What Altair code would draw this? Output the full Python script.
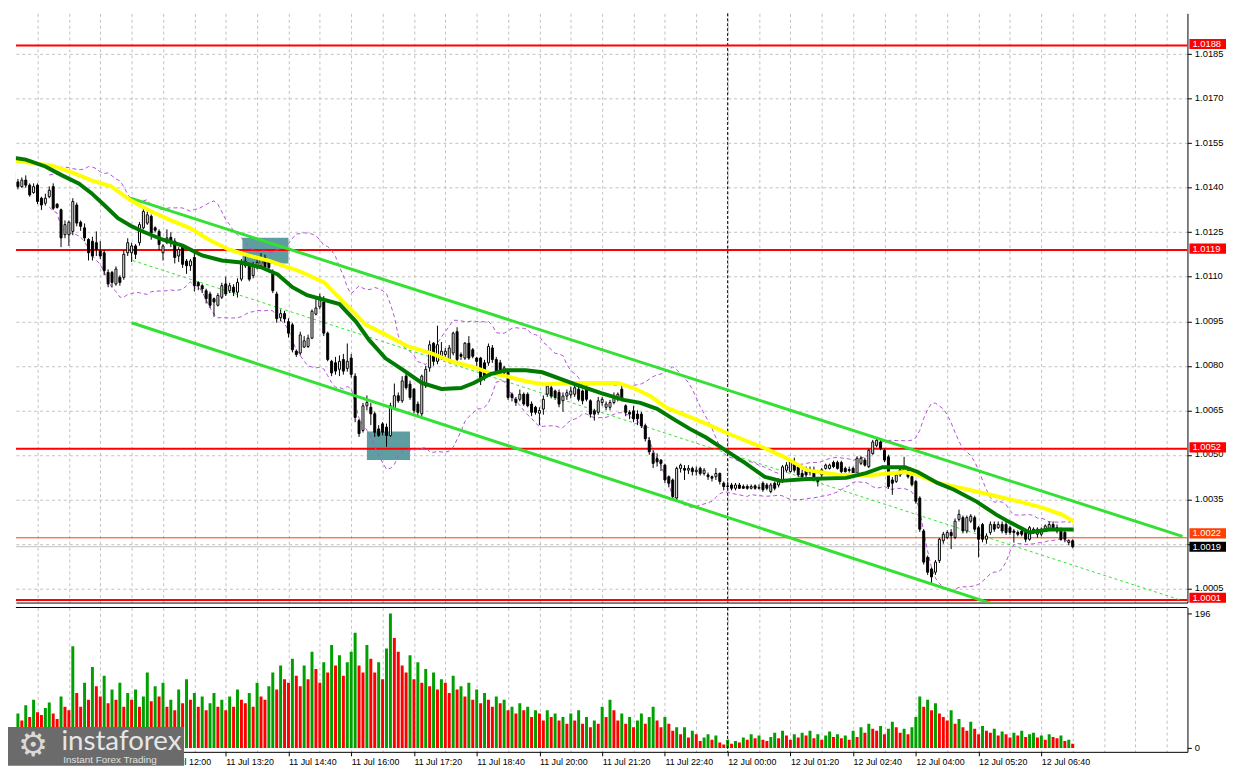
import altair as alt
import pandas as pd
import numpy as np

# ---------------- data (prices in pips above 1.0000) ----------------
O = [145.4,142.0,140.4,142.6,140.9,138.4,140.9,136.5,134.8,137.0,140.4,134.5,132.6,124.2,124.2,125.3,134.2,128.4,126.5,122.6,
     122.0,121.5,118.7,118.1,111.5,111.5,107.6,109.8,109.8,118.1,118.1,120.4,121.5,126.5,128.1,130.4,126.5,125.3,118.1,121.5,
     123.3,122.0,117.0,120.4,115.3,113.7,116.5,108.1,107.0,105.3,104.2,102.6,100.4,103.1,107.6,105.3,106.5,104.8,109.2,113.7,
     113.7,110.4,113.1,113.7,116.5,115.3,111.5,104.2,
     96.2,97.6,94.9,93.8,84.9,84.3,86.3,86.5,89.3,97.4,99.9,101.5,91.0,81.5,81.0,78.8,82.1,79.1,82.6,76.5,
     61.5,58.2,66.5,66.0,63.8,58.7,60.4,59.3,56.5,65.4,69.9,68.2,76.5,73.8,72.1,67.1,63.8,73.2,79.3,87.6,
     81.5,83.2,83.8,82.1,84.3,91.5,83.8,82.6,87.6,85.4,82.6,82.6,81.0,81.0,86.0,82.1,81.0,77.6,78.2,70.4,
     68.7,68.7,70.4,70.4,67.1,66.0,64.0,
     65.4,70.4,72.6,71.5,71.0,68.2,69.8,70.2,70.4,72.1,71.5,72.6,68.2,64.8,64.3,67.6,66.0,66.0,67.6,68.7,
     72.1,66.5,64.3,64.8,63.7,63.7,59.8,54.8,50.4,48.7,48.2,46.5,42.6,41.5,35.4,45.4,45.4,44.8,45.4,44.3,
     45.4,43.7,43.2,42.6,42.6,43.7,40.4,39.3,39.8,38.7,39.8,39.3,39.3,38.7,39.5,38.7,40.4,39.8,37.6,40.4,
     39.8,41.0,44.8,44.3,47.6,45.9,43.7,
     45.4,
     45.1,44.9,41.5,43.2,45.4,45.4,47.4,47.4,47.4,45.4,45.0,45.4,43.8,47.1,48.2,46.0,50.4,53.2,54.3,51.5,
     49.3,41.5,41.0,43.2,44.3,44.9,42.6,41.0,35.4,24.3,15.4,11.5,10.4,14.3,21.0,22.1,23.8,22.1,28.2,28.8,
     24.3,27.6,28.8,25.4,26.5,21.5,23.8,26.5,25.4,26.5,26.5,25.4,24.3,23.8,24.3,23.8,21.5,23.8,23.2,23.2,
     24.9,24.9,26.5,25.4,24.9,23.8,20.4,21.0]
C = [142.0,140.4,142.6,140.9,137.6,140.4,135.4,134.2,136.5,139.2,133.1,133.4,123.1,127.6,128.4,135.4,128.1,127.0,123.1,118.1,
     117.0,119.2,117.0,112.0,107.6,108.1,112.6,108.1,117.6,121.5,120.4,117.6,127.6,132.0,130.9,124.8,125.7,120.9,120.4,123.1,
     121.5,116.5,119.2,114.2,113.7,115.3,107.0,107.0,105.9,102.6,100.4,101.5,103.7,107.0,104.2,107.0,104.8,108.1,114.2,115.3,
     109.2,114.2,114.8,116.5,113.1,113.1,105.3,95.9,
     97.6,95.8,91.0,85.4,83.8,90.4,88.4,89.3,98.4,99.5,103.2,91.0,82.1,77.6,78.2,81.5,78.2,81.5,77.1,62.6,
     57.1,66.5,67.6,63.8,57.6,56.5,57.6,56.5,66.5,69.9,68.2,74.9,72.6,69.3,64.9,64.3,76.5,78.8,87.1,81.5,
     87.1,84.9,84.9,86.0,91.0,82.1,83.2,87.6,82.6,83.2,81.5,74.9,76.5,86.5,82.1,78.2,77.6,79.3,69.3,69.3,
     67.6,70.4,67.1,66.5,64.3,64.3,64.9,
     68.7,73.2,69.8,69.3,67.1,69.8,70.9,71.5,72.6,68.7,68.2,68.7,63.7,63.7,68.2,68.7,67.1,67.6,69.3,70.4,
     68.7,64.3,63.7,62.1,62.1,59.8,55.4,51.0,47.1,47.6,47.1,41.5,40.4,35.9,45.4,46.5,44.8,45.4,44.3,44.8,
     43.7,44.8,42.6,42.1,43.7,41.0,39.3,39.5,38.7,39.8,38.7,38.7,38.7,39.3,38.7,39.0,38.2,38.7,39.8,38.7,
     40.9,45.9,46.5,47.6,44.8,43.2,42.6,
     43.2,
     44.0,41.5,41.0,44.9,46.5,46.5,46.0,45.4,44.3,44.3,44.7,43.8,48.8,48.8,46.5,51.5,54.3,54.9,52.1,48.2,
     39.3,40.4,43.2,44.9,45.4,42.6,39.9,34.3,24.9,13.8,10.4,8.8,13.8,21.5,23.2,23.8,22.7,27.6,29.9,24.3,
     28.8,29.3,24.9,21.5,21.5,22.6,26.5,24.9,26.5,24.3,23.8,23.8,23.8,23.2,23.2,21.5,25.4,24.9,24.9,24.9,
     26.0,26.5,24.9,24.3,21.5,21.5,21.0,19.0]
H = [146,143,143.5,144.2,141.5,141.5,141.5,137,138,140.5,141.5,134.8,133,129,129,136.5,135,129,128,123,
     123.5,125.3,122,119,112.5,112,113.5,110.5,119,123,121.5,121,128.5,133,132,131,127,126,121,126,
     125,123,120,121,116,116,118,108.5,107.5,106,105,103,104.5,108,110,108,107.5,109.5,116,117,
     114.5,115,116,118,117.5,116,112.5,105,
     99,98.5,96,94.5,85.5,91.5,90,90.5,99,103,104.3,103.5,91.5,82,83,83.5,84,87.5,84,77.5,
     62,67.5,70,67.5,64.5,60,61,60.5,67.5,74,71,76.5,78,75,72.5,68,77,80,88.5,88,
     93.5,88,86,87,91.5,93,84.5,88,90,86,83,83,82,87.5,87,83,82,80,79,71,
     69.5,72,71,71,68,66.5,66,
     70,74,73.5,72,72,71,72,73,73.5,73,72,73,68.7,65.5,69.5,69.5,68,68.5,71,71,
     73.5,67,65,66.5,65,64.5,60.5,56,51.5,50.5,48.5,47,43,42,46,47,46.5,46.5,46,46,
     46,45.5,44,43,45.5,44,41,41,40.5,40.5,40.5,40,40,40,40,40,41,40.5,40.5,41,
     42,46.5,47.5,48.5,49,46.5,45,
     46,
     46,46,42,45.5,47,47,48,48,48,46,46,46,49.5,49.5,49,52,55,55.7,55,52,
     50,42.5,44,45.5,49.3,45.5,43,41.5,36,25,16,12,14.5,22,24,24.5,24.9,28.5,31.5,29.5,
     29.5,30,29.5,26,27,23.5,27.5,27.5,27.5,27.5,27.5,26,25,24.5,25,24.5,26,25.5,25.5,25.5,
     26.5,27.5,27.5,26.5,25.5,24.5,21.5,21.5]
L = [141,139.5,140,140,137,138,134.5,132.5,134,136.5,132.5,133,120,123,120.4,124,127,125.5,122,115.5,
     115.5,117,116,110.5,106.5,106.5,107,107,109,117,115,116,120.5,126,127.5,122.5,125,119,115.5,121,
     120,114.5,115,113,111,112,105,105.5,104.5,101,99.5,96.5,100,102.5,103.5,104.5,103.5,103,108.5,113,
     108.5,109.5,112.5,113,112.5,112.5,104.5,94.5,
     95,94.5,89.5,84.5,83,83.5,86,86,89,97,99,90,81.5,76.5,77,76.5,77,78,76,61,
     56,57.5,65,60,56,56,56.5,52.7,56,65,67.5,67.5,72,68.5,64,62.6,63,72.5,78,80,
     80.5,82,83,81,83.5,81.5,82,82,82,82.5,80,73.5,75,80,81,77,76.5,77,68.5,68,
     66.5,68,66.5,66,63,63.5,60,
     63.5,69.5,69,68.5,66,64.5,68.5,69,69.5,68,67,68,62.5,61.5,63.5,66.5,65,65,67,68,
     68,63,62,61,60,59,54.5,50,45.5,46,44.5,40.5,39,35,34.5,44,41.5,43.5,43,43,
     43,43,41.5,41,41.5,40,38,38.5,38,38,38.5,38.5,38.2,38.3,38.2,38.3,37.5,38,37,38,
     39,40.5,44,44,44,42.5,41.5,
     42.5,
     43,41,39.3,42.5,45,45,45.5,45,43.5,44,44,43,43,46.5,46,45.5,50,52.5,51.5,47.5,
     38.5,36.5,40.5,42.5,43.5,42,39.3,33.5,24,13,9.5,6.5,9.5,13.5,20,21.5,18.2,21.5,27.5,23.5,
     23.5,27,24,15.4,20.5,20,23,24,25,23.5,23,23,20.4,22.5,22.5,20.5,21,23.3,22,22.5,
     24.5,24.5,24.5,23.5,21,20.5,19.5,18.5]
VOL = [35,50,40,62,45,70,52,48,58,66, 50,42,75,60,55,148,80,60,95,70,
       118,90,75,105,65,85,70,95,60,80, 70,85,60,75,110,68,90,75,95,60,
       70,55,85,65,100,70,80,60,75,55, 65,80,60,70,55,75,60,85,70,65,
       80,60,95,75,70,90,110,85,120,100, 95,130,105,90,120,100,140,115,95,125,
       110,150,120,135,105,125,140,168,120,110, 150,130,110,125,100,145,196,160,140,120,
       110,135,100,125,95,115,90,110,85,100, 95,80,105,85,90,75,95,70,85,65,
       80,70,60,75,65,70,55,60,50,65, 55,60,45,55,50,40,55,45,50,40,
       45,35,50,40,55,35,45,30,40,35, 60,45,70,55,40,50,35,45,30,40,
       50,35,45,60,40,30,45,35,25,30, 20,30,15,25,20,10,15,20,12,18,
       8,5,12,6,10,8,15,12,20,14, 18,12,10,16,22,14,25,18,12,20,
       15,22,18,25,14,20,12,18,24,16, 20,14,18,12,25,16,30,22,35,28,
       25,32,20,28,38,30,22,28,20,30, 45,75,60,70,55,65,50,45,40,55,
       35,42,30,25,38,28,20,32,25,22, 28,18,24,20,15,22,18,25,16,20,
       22,15,18,12,20,16,14,18,10,12, 6]

# moving averages (minutes from 12 Jul 00:00, pips)
MA50_T = [-911.25,-861.25,-836.25,-811.25,-786.25,-761.25,-736.25,-711.25,-686.25,-661.25,-636.25,-611.25,-586.25,-567.5,
          -548.75,-515,-490,-461.25,-436.25,-407.5,-377.5,-352.5,-323.75,-302.5,-282.5,-257.5,-236.25,-195,-140,-120,
          -98.75,-77.5,-52.5,-27.5,-2.5,22.5,47.5,72.5,101.25,142.5,185,226.25,242.5,267.5,297.5,335,372.5,401.25,426.25,441.25]
MA50_P = [149.2,147.5,145.2,142.5,140.5,135.8,132.2,129.2,126.5,122.5,119.2,117.2,115.5,113.8,112.2,108.2,101.5,93.8,90.5,
          86.5,84.2,81.5,79.5,77.5,76.5,74.8,73.8,74.2,74.2,72.5,69.8,65.8,63.2,60.5,57.5,54.8,52.2,49.2,44.8,43.2,43.2,
          44.2,43.2,40.5,38.8,36.5,34.2,32.2,29.8,27.5]
MA30_T = [-911.25,-895,-870,-848.75,-827.5,-811.25,-795,-777.5,-761.25,-745,-720,-695,-670,-645,-620,-595,-573.75,-555,
          -536.25,-495,-473.75,-457.5,-436.25,-415,-390,-365,-340,-323.75,-302.5,-282.5,-257.5,-236.25,-195,-161.25,
          -132.5,-111.25,-90,-70,-48.75,-27.5,-2.5,22.5,47.5,67.5,101.25,151.25,176.25,197.5,226.25,242.5,267.5,
          288.75,317.5,342.5,360,385,410,441.25]
MA30_P = [150.2,149.5,147.2,144.2,141.5,138.2,134.2,129.8,127.2,125.2,122.5,120.5,117.2,115.5,114.8,113.2,110.8,106.5,
          103.8,100.8,94.8,88.8,82.5,78.8,74.2,72.2,72.5,74.2,77.2,78.5,78.5,77.8,73.8,70.8,68.5,67.5,65.5,62.2,58.8,
          55.8,51.5,47.2,42.5,41.2,41.8,42.2,43.8,45.8,45.8,44.2,40.5,38.2,34.2,29.8,27.2,23.8,24.8,24.8]

# trend channel (analyst lines)
CH_ID = ["up", "up", "lo", "lo", "mid", "mid"]
CH_T = [-761.25, 580, -760, 580, -758.75, 580]
CH_P = [136.5, 22.5, 94.5, -21.2, 115.5, 0.8]

# rectangles
BOX_T1 = [-618.75, -460]
BOX_T2 = [-560, -405]
BOX_P1 = [114.5, 48.2]
BOX_P2 = [123.2, 57.8]

# horizontal levels
LVL_P = [1.0188, 1.0119, 1.0052, 1.0001, 1.0022, 1.0019]
LVL_COL = ["#ff0000", "#ff0000", "#ff0000", "#ff0000", "#ff4000", "#c0c0c0"]
LVL_W = [2, 2, 2, 2, 1, 1]
TAG_TEXT = ["1.0188", "1.0119", "1.0052", "1.0001", "1.0022", "1.0019"]
TAG_P = [1.01885, 1.01195, 1.00525, 1.00018, 1.00235, 1.00190]
TAG_BG = ["#ff0000", "#ff0000", "#ff0000", "#ff0000", "#ff4000", "#000000"]

YTICKS = [1.0005, 1.0020, 1.0035, 1.0050, 1.0065, 1.0080, 1.0095, 1.0110, 1.0125, 1.0140, 1.0155, 1.0170, 1.0185]
GRID_T = list(range(-880, 561, 40))

# ---------------- layout ----------------
W, HP, HV = 1185, 596, 146
XDOM = [-901.25, 580]
YDOM = [1.0000167, 1.0198833]
VDOM = [-5.76, 204.65]
FONT = "Liberation Sans"

def px(v):
    return 1 + v / 10000.0

n = len(C)
t = [-910 + 5 * i for i in range(n)]
df = pd.DataFrame({"t": t, "o": [px(v) for v in O], "c": [px(v) for v in C],
                   "h": [px(v) for v in H], "l": [px(v) for v in L], "vol": VOL})
df["fill"] = np.where(df["c"] > df["o"], "#ffffff", "#000000")
prev = df["vol"].shift(1)
df["vcol"] = np.where(df["vol"] > prev, "#00a000", "#ff0000")
s = df["c"]
mid = s.rolling(20, min_periods=10).mean()
sd = s.rolling(20, min_periods=10).std(ddof=0)
df["bbu"] = mid + 2 * sd
df["bbl"] = mid - 2 * sd
bb = df.dropna(subset=["bbu"])

ma50 = pd.DataFrame({"t": MA50_T, "p": [px(v) for v in MA50_P]})
ma30 = pd.DataFrame({"t": MA30_T, "p": [px(v) for v in MA30_P]})
ch = pd.DataFrame({"id": CH_ID, "t": CH_T, "p": [px(v) for v in CH_P]})
boxes = pd.DataFrame({"t1": BOX_T1, "t2": BOX_T2, "p1": [px(v) for v in BOX_P1], "p2": [px(v) for v in BOX_P2]})
lvl = pd.DataFrame({"p": LVL_P, "col": LVL_COL, "w": LVL_W})
tags = pd.DataFrame({"txt": TAG_TEXT, "p": TAG_P, "bg": TAG_BG})
tags["p1"] = tags["p"] + 0.00017
tags["p2"] = tags["p"] - 0.00017
sep = pd.DataFrame({"t": [0]})

xs = alt.Scale(domain=XDOM, nice=False, zero=False)
ys = alt.Scale(domain=YDOM, nice=False, zero=False)
vs = alt.Scale(domain=VDOM, nice=False, zero=False)

GRID = dict(grid=True, gridColor="#c0c0c0", gridDash=[3, 3], gridWidth=1)

x_price_axis = alt.Axis(values=GRID_T, labels=False, ticks=False, domain=True, domainColor="black",
                        title=None, zindex=0, **GRID)
y_label_expr = "abs(datum.value - 1.002) < 0.00005 ? '' : format(datum.value, '.4f')"
y_price_axis = alt.Axis(orient="right", values=YTICKS, labelExpr=y_label_expr, domainColor="black",
                        tickColor="black", tickSize=4, labelFont=FONT, labelFontSize=9.5, labelColor="black",
                        labelPadding=3, labelOffset=-1, title=None, zindex=0, **GRID)

def X(field="t:Q"):
    return alt.X(field, scale=xs, axis=x_price_axis)

def Y(field):
    return alt.Y(field, scale=ys, axis=y_price_axis)

box_layer = alt.Chart(boxes).mark_rect(color="#5f9ea0", clip=True).encode(
    x=X("t1:Q"), x2="t2:Q", y=Y("p1:Q"), y2="p2:Q")

sep_layer = alt.Chart(sep).mark_rule(color="black", strokeDash=[3, 2], strokeWidth=1).encode(x=X())

lvl_layer = alt.Chart(lvl).mark_rule(clip=True).encode(
    y=Y("p:Q"), color=alt.Color("col:N", scale=None), strokeWidth=alt.StrokeWidth("w:Q", scale=None))

ch_solid = alt.Chart(ch[ch["id"] != "mid"]).mark_line(color="#33e033", strokeWidth=3, clip=True).encode(
    x=X(), y=Y("p:Q"), detail="id:N")
ch_mid = alt.Chart(ch[ch["id"] == "mid"]).mark_line(color="#33e033", strokeWidth=1, strokeDash=[3, 3], clip=True).encode(
    x=X(), y=Y("p:Q"))

bb_up = alt.Chart(bb).mark_line(color="#b050d8", strokeWidth=1, strokeDash=[4, 3], clip=True).encode(x=X(), y=Y("bbu:Q"))
bb_lo = alt.Chart(bb).mark_line(color="#b050d8", strokeWidth=1, strokeDash=[4, 3], clip=True).encode(x=X(), y=Y("bbl:Q"))

wick = alt.Chart(df).mark_rule(color="black", strokeWidth=1, clip=True).encode(x=X(), y=Y("l:Q"), y2="h:Q")
body = alt.Chart(df).mark_bar(size=2, stroke="black", strokeWidth=1, clip=True).encode(
    x=X(), y=Y("o:Q"), y2="c:Q", fill=alt.Fill("fill:N", scale=None))

ma_slow = alt.Chart(ma50).mark_line(color="#ffff00", strokeWidth=4, clip=True).encode(x=X(), y=Y("p:Q"))
ma_fast = alt.Chart(ma30).mark_line(color="#007a00", strokeWidth=4, clip=True).encode(x=X(), y=Y("p:Q"))

tag_rect = alt.Chart(tags).mark_rect().encode(
    x=alt.value(1187), x2=alt.value(1224), y=Y("p1:Q"), y2="p2:Q", fill=alt.Fill("bg:N", scale=None))
tag_text = alt.Chart(tags).mark_text(align="left", baseline="middle", font=FONT, fontSize=9.5, color="white").encode(
    x=alt.value(1190), y=Y("p:Q"), text="txt:N")

price = alt.layer(box_layer, sep_layer, lvl_layer, ch_mid, bb_up, bb_lo, wick, body, ch_solid,
                  ma_slow, ma_fast, tag_rect, tag_text).properties(width=W, height=HP)

# ---------------- volume panel ----------------
label_expr = ("(datum.value % 80 === 0 && datum.value >= -720 && datum.value <= 400) ? "
              "((datum.value < 0 ? '11 Jul ' : '12 Jul ') + "
              "format(floor(((datum.value + 1440) % 1440) / 60), '02d') + ':' + "
              "format((datum.value + 1440) % 60, '02d')) : ''")
x_vol_axis = alt.Axis(values=GRID_T, labelExpr=label_expr, labelAlign="left", labelFont=FONT, labelFontSize=9,
                      labelColor="black", labelPadding=2, labelFlush=False, labelOverlap=False,
                      tickColor="black", tickSize=4,
                      tickOpacity={"condition": {"test": "datum.value % 80 === 0 && datum.value <= 400",
                                                 "value": 1}, "value": 0},
                      domainColor="black", title=None, zindex=0, **GRID)
y_vol_axis = alt.Axis(orient="right", values=[0, 196], format="d", grid=False, domainColor="black",
                      tickColor="black", tickSize=4, labelFont=FONT, labelFontSize=9.5, labelColor="black",
                      labelPadding=3, title=None, zindex=0)

vbars = alt.Chart(df).mark_bar(size=3, clip=True).encode(
    x=alt.X("t:Q", scale=xs, axis=x_vol_axis),
    y=alt.Y("vol:Q", scale=vs, axis=y_vol_axis),
    color=alt.Color("vcol:N", scale=None))
vsep = alt.Chart(sep).mark_rule(color="black", strokeDash=[3, 2], strokeWidth=1).encode(
    x=alt.X("t:Q", scale=xs, axis=x_vol_axis))
vtop = alt.Chart(sep).mark_rule(color="black", strokeWidth=1).encode(
    x=alt.value(0), x2=alt.value(W), y=alt.value(0))

logo_df = pd.DataFrame({"k": [0]})
logo_bg = alt.Chart(logo_df).mark_rect(color="#6b6b6b").encode(
    x=alt.value(-8), x2=alt.value(170), y=alt.value(121), y2=alt.value(160))
logo_gear = alt.Chart(logo_df).mark_text(text="⚙", font="DejaVu Sans", fontSize=34, color="#d9d9d9",
                                         align="left", baseline="middle").encode(x=alt.value(2), y=alt.value(140))
logo_name = alt.Chart(logo_df).mark_text(text="instaforex", font="Lato", fontSize=28, color="#e6e6e6",
                                         align="left", baseline="alphabetic").encode(x=alt.value(46), y=alt.value(144))
logo_sub = alt.Chart(logo_df).mark_text(text="Instant Forex Trading", font=FONT, fontSize=10, color="#e0e0e0",
                                        align="left", baseline="alphabetic").encode(x=alt.value(48), y=alt.value(157))

volume = alt.layer(vbars, vsep, vtop, logo_bg, logo_gear, logo_name, logo_sub).properties(width=W, height=HV)

chart = alt.vconcat(price, volume, spacing=3).properties(padding=0, background="white").configure_view(
    stroke=None)

chart.save("out.html", embed_options={"renderer": "svg", "actions": False})
